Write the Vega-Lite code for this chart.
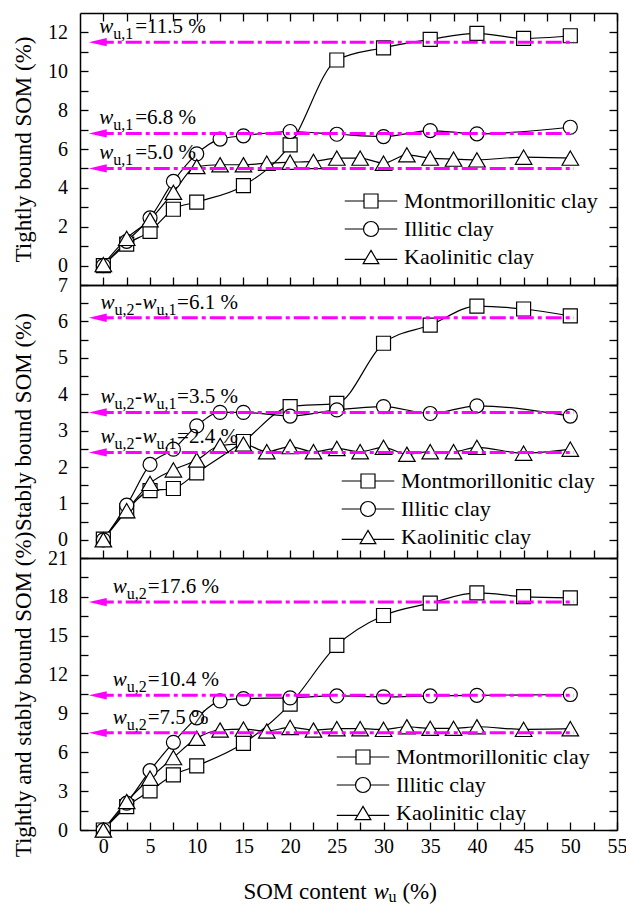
{
  "$schema": "https://vega.github.io/schema/vega-lite/v6.json",
  "background": "white",
  "padding": {"left": 11, "top": 12, "right": 0, "bottom": 0},
  "autosize": {"type": "pad"},
  "bounds": "flush",
  "spacing": 0,
  "config": {
    "font": "Liberation Serif",
    "view": {"stroke": null},
    "text": {"font": "Liberation Serif", "color": "black"},
    "axis": {
      "domainColor": "black", "domainWidth": 1.5, "tickColor": "black", "tickWidth": 1.3, "tickSize": -8,
      "labelFont": "Liberation Serif", "labelFontSize": 20, "labelColor": "black",
      "titleFont": "Liberation Serif", "titleFontSize": 23, "titleFontWeight": "normal", "titleColor": "black",
      "grid": false, "labelOverlap": false, "labelFlush": false, "labelBound": false
    },
    "legend": {
      "labelFont": "Liberation Serif", "labelFontSize": 22, "labelColor": "black", "labelLimit": 400,
      "symbolSize": 196, "symbolStrokeWidth": 1.2, "symbolOpacity": 1, "labelOffset": 22, "rowPadding": 6, "padding": 0
    }
  },
  "datasets": {
    "pts": [
      {"p":1,"c":"Montmorillonitic clay","x":0,"y":0},
      {"p":1,"c":"Montmorillonitic clay","x":2.5,"y":1.1},
      {"p":1,"c":"Montmorillonitic clay","x":5,"y":1.76},
      {"p":1,"c":"Montmorillonitic clay","x":7.5,"y":2.9},
      {"p":1,"c":"Montmorillonitic clay","x":10,"y":3.27},
      {"p":1,"c":"Montmorillonitic clay","x":15,"y":4.11},
      {"p":1,"c":"Montmorillonitic clay","x":20,"y":6.21},
      {"p":1,"c":"Montmorillonitic clay","x":25,"y":10.58},
      {"p":1,"c":"Montmorillonitic clay","x":30,"y":11.21},
      {"p":1,"c":"Montmorillonitic clay","x":35,"y":11.64},
      {"p":1,"c":"Montmorillonitic clay","x":40,"y":11.95},
      {"p":1,"c":"Montmorillonitic clay","x":45,"y":11.69},
      {"p":1,"c":"Montmorillonitic clay","x":50,"y":11.83},
      {"p":1,"c":"Illitic clay","x":0,"y":0},
      {"p":1,"c":"Illitic clay","x":2.5,"y":1.25},
      {"p":1,"c":"Illitic clay","x":5,"y":2.45},
      {"p":1,"c":"Illitic clay","x":7.5,"y":4.33},
      {"p":1,"c":"Illitic clay","x":10,"y":5.75},
      {"p":1,"c":"Illitic clay","x":12.5,"y":6.51},
      {"p":1,"c":"Illitic clay","x":15,"y":6.68},
      {"p":1,"c":"Illitic clay","x":20,"y":6.9},
      {"p":1,"c":"Illitic clay","x":25,"y":6.76},
      {"p":1,"c":"Illitic clay","x":30,"y":6.64},
      {"p":1,"c":"Illitic clay","x":35,"y":6.95},
      {"p":1,"c":"Illitic clay","x":40,"y":6.78},
      {"p":1,"c":"Illitic clay","x":50,"y":7.12},
      {"p":1,"c":"Kaolinitic clay","x":0,"y":0.05},
      {"p":1,"c":"Kaolinitic clay","x":2.5,"y":1.4},
      {"p":1,"c":"Kaolinitic clay","x":5,"y":2.36},
      {"p":1,"c":"Kaolinitic clay","x":7.5,"y":3.77},
      {"p":1,"c":"Kaolinitic clay","x":10,"y":5.1},
      {"p":1,"c":"Kaolinitic clay","x":12.5,"y":5.19},
      {"p":1,"c":"Kaolinitic clay","x":15,"y":5.19},
      {"p":1,"c":"Kaolinitic clay","x":17.5,"y":5.27},
      {"p":1,"c":"Kaolinitic clay","x":20,"y":5.32},
      {"p":1,"c":"Kaolinitic clay","x":22.5,"y":5.36},
      {"p":1,"c":"Kaolinitic clay","x":25,"y":5.53},
      {"p":1,"c":"Kaolinitic clay","x":27.5,"y":5.53},
      {"p":1,"c":"Kaolinitic clay","x":30,"y":5.27},
      {"p":1,"c":"Kaolinitic clay","x":32.5,"y":5.7},
      {"p":1,"c":"Kaolinitic clay","x":35,"y":5.53},
      {"p":1,"c":"Kaolinitic clay","x":37.5,"y":5.48},
      {"p":1,"c":"Kaolinitic clay","x":40,"y":5.44},
      {"p":1,"c":"Kaolinitic clay","x":45,"y":5.58},
      {"p":1,"c":"Kaolinitic clay","x":50,"y":5.53},

      {"p":2,"c":"Montmorillonitic clay","x":0,"y":0.02},
      {"p":2,"c":"Montmorillonitic clay","x":2.5,"y":0.8},
      {"p":2,"c":"Montmorillonitic clay","x":5,"y":1.35},
      {"p":2,"c":"Montmorillonitic clay","x":7.5,"y":1.41},
      {"p":2,"c":"Montmorillonitic clay","x":10,"y":1.84},
      {"p":2,"c":"Montmorillonitic clay","x":15,"y":2.7},
      {"p":2,"c":"Montmorillonitic clay","x":20,"y":3.66},
      {"p":2,"c":"Montmorillonitic clay","x":25,"y":3.75},
      {"p":2,"c":"Montmorillonitic clay","x":30,"y":5.4},
      {"p":2,"c":"Montmorillonitic clay","x":35,"y":5.9},
      {"p":2,"c":"Montmorillonitic clay","x":40,"y":6.42},
      {"p":2,"c":"Montmorillonitic clay","x":45,"y":6.34},
      {"p":2,"c":"Montmorillonitic clay","x":50,"y":6.15},
      {"p":2,"c":"Illitic clay","x":0,"y":0},
      {"p":2,"c":"Illitic clay","x":2.5,"y":0.95},
      {"p":2,"c":"Illitic clay","x":5,"y":2.07},
      {"p":2,"c":"Illitic clay","x":7.5,"y":2.49},
      {"p":2,"c":"Illitic clay","x":10,"y":3.13},
      {"p":2,"c":"Illitic clay","x":12.5,"y":3.5},
      {"p":2,"c":"Illitic clay","x":15,"y":3.5},
      {"p":2,"c":"Illitic clay","x":20,"y":3.4},
      {"p":2,"c":"Illitic clay","x":25,"y":3.57},
      {"p":2,"c":"Illitic clay","x":30,"y":3.66},
      {"p":2,"c":"Illitic clay","x":35,"y":3.47},
      {"p":2,"c":"Illitic clay","x":40,"y":3.68},
      {"p":2,"c":"Illitic clay","x":50,"y":3.4},
      {"p":2,"c":"Kaolinitic clay","x":0,"y":0},
      {"p":2,"c":"Kaolinitic clay","x":2.5,"y":0.8},
      {"p":2,"c":"Kaolinitic clay","x":5,"y":1.55},
      {"p":2,"c":"Kaolinitic clay","x":7.5,"y":1.92},
      {"p":2,"c":"Kaolinitic clay","x":10,"y":2.19},
      {"p":2,"c":"Kaolinitic clay","x":12.5,"y":2.59},
      {"p":2,"c":"Kaolinitic clay","x":15,"y":2.63},
      {"p":2,"c":"Kaolinitic clay","x":17.5,"y":2.42},
      {"p":2,"c":"Kaolinitic clay","x":20,"y":2.56},
      {"p":2,"c":"Kaolinitic clay","x":22.5,"y":2.42},
      {"p":2,"c":"Kaolinitic clay","x":25,"y":2.51},
      {"p":2,"c":"Kaolinitic clay","x":27.5,"y":2.42},
      {"p":2,"c":"Kaolinitic clay","x":30,"y":2.54},
      {"p":2,"c":"Kaolinitic clay","x":32.5,"y":2.35},
      {"p":2,"c":"Kaolinitic clay","x":35,"y":2.42},
      {"p":2,"c":"Kaolinitic clay","x":37.5,"y":2.42},
      {"p":2,"c":"Kaolinitic clay","x":40,"y":2.54},
      {"p":2,"c":"Kaolinitic clay","x":45,"y":2.38},
      {"p":2,"c":"Kaolinitic clay","x":50,"y":2.49},

      {"p":3,"c":"Montmorillonitic clay","x":0,"y":0},
      {"p":3,"c":"Montmorillonitic clay","x":2.5,"y":1.8},
      {"p":3,"c":"Montmorillonitic clay","x":5,"y":3.02},
      {"p":3,"c":"Montmorillonitic clay","x":7.5,"y":4.25},
      {"p":3,"c":"Montmorillonitic clay","x":10,"y":4.95},
      {"p":3,"c":"Montmorillonitic clay","x":15,"y":6.69},
      {"p":3,"c":"Montmorillonitic clay","x":20,"y":9.72},
      {"p":3,"c":"Montmorillonitic clay","x":25,"y":14.25},
      {"p":3,"c":"Montmorillonitic clay","x":30,"y":16.56},
      {"p":3,"c":"Montmorillonitic clay","x":35,"y":17.51},
      {"p":3,"c":"Montmorillonitic clay","x":40,"y":18.3},
      {"p":3,"c":"Montmorillonitic clay","x":45,"y":18.02},
      {"p":3,"c":"Montmorillonitic clay","x":50,"y":17.92},
      {"p":3,"c":"Illitic clay","x":0,"y":0},
      {"p":3,"c":"Illitic clay","x":2.5,"y":2.07},
      {"p":3,"c":"Illitic clay","x":5,"y":4.58},
      {"p":3,"c":"Illitic clay","x":7.5,"y":6.77},
      {"p":3,"c":"Illitic clay","x":10,"y":8.66},
      {"p":3,"c":"Illitic clay","x":12.5,"y":9.97},
      {"p":3,"c":"Illitic clay","x":15,"y":10.15},
      {"p":3,"c":"Illitic clay","x":20,"y":10.2},
      {"p":3,"c":"Illitic clay","x":25,"y":10.35},
      {"p":3,"c":"Illitic clay","x":30,"y":10.28},
      {"p":3,"c":"Illitic clay","x":35,"y":10.35},
      {"p":3,"c":"Illitic clay","x":40,"y":10.4},
      {"p":3,"c":"Illitic clay","x":50,"y":10.46},
      {"p":3,"c":"Kaolinitic clay","x":0,"y":0},
      {"p":3,"c":"Kaolinitic clay","x":2.5,"y":2.2},
      {"p":3,"c":"Kaolinitic clay","x":5,"y":4.0},
      {"p":3,"c":"Kaolinitic clay","x":7.5,"y":5.59},
      {"p":3,"c":"Kaolinitic clay","x":10,"y":7.08},
      {"p":3,"c":"Kaolinitic clay","x":12.5,"y":7.72},
      {"p":3,"c":"Kaolinitic clay","x":15,"y":7.79},
      {"p":3,"c":"Kaolinitic clay","x":17.5,"y":7.64},
      {"p":3,"c":"Kaolinitic clay","x":20,"y":7.92},
      {"p":3,"c":"Kaolinitic clay","x":22.5,"y":7.72},
      {"p":3,"c":"Kaolinitic clay","x":25,"y":7.82},
      {"p":3,"c":"Kaolinitic clay","x":27.5,"y":7.82},
      {"p":3,"c":"Kaolinitic clay","x":30,"y":7.77},
      {"p":3,"c":"Kaolinitic clay","x":32.5,"y":7.97},
      {"p":3,"c":"Kaolinitic clay","x":35,"y":7.85},
      {"p":3,"c":"Kaolinitic clay","x":37.5,"y":7.85},
      {"p":3,"c":"Kaolinitic clay","x":40,"y":7.97},
      {"p":3,"c":"Kaolinitic clay","x":45,"y":7.77},
      {"p":3,"c":"Kaolinitic clay","x":50,"y":7.82}
    ],
    "refs": [
      {"p":1,"v":11.5,"t":"=11.5 %"},
      {"p":1,"v":6.8,"t":"=6.8 %"},
      {"p":1,"v":5.0,"t":"=5.0 %"},
      {"p":2,"v":6.1,"t":"=6.1 %"},
      {"p":2,"v":3.5,"t":"=3.5 %"},
      {"p":2,"v":2.4,"t":"=2.4 %"},
      {"p":3,"v":17.6,"t":"=17.6 %"},
      {"p":3,"v":10.4,"t":"=10.4 %"},
      {"p":3,"v":7.5,"t":"=7.5 %"}
    ]
  },
  "vconcat": [
    {
      "width": 537, "height": 272,
      "layer": [
        {
          "data": {"name": "pts"}, "transform": [{"filter": "datum.p === 1"}],
          "mark": {"type": "line", "interpolate": "monotone", "color": "black", "strokeWidth": 1.2},
          "encoding": {
            "x": {"field": "x", "type": "quantitative", "scale": {"domain": [-2.5, 55], "nice": false, "zero": false},
              "axis": {"orient": "bottom", "values": [0,2.5,5,7.5,10,12.5,15,17.5,20,22.5,25,27.5,30,32.5,35,37.5,40,42.5,45,47.5,50,52.5,55], "labels": false, "title": null, "labelFlush": false,
                "encode": {"ticks": {"y2": {"condition": {"test": "datum.value % 5 === 0", "value": -8}, "value": -4}}}}},
            "y": {"field": "y", "type": "quantitative", "scale": {"domain": [-1, 13], "nice": false, "zero": false},
              "axis": {"orient": "left", "values": [0,1,2,3,4,5,6,7,8,9,10,11,12], "title": "Tightly bound SOM (%)", "labelExpr": "datum.value % 2 === 0 ? format(datum.value, 'd') : ''", "labelPadding": 20.5, "titlePadding": 15, "minExtent": 30, "maxExtent": 30, "labelFlush": false, "labelOverlap": false,
                "encode": {"ticks": {"x2": {"condition": {"test": "datum.value % 2 === 0", "value": 8}, "value": 4}}}}},
            "detail": {"field": "c"}
          }
        },
        {
          "data": {"name": "pts"}, "transform": [{"filter": "datum.p === 1"}],
          "mark": {"type": "point", "filled": true, "fill": "white", "stroke": "black", "strokeWidth": 1.2, "opacity": 1, "size": 196},
          "encoding": {
            "x": {"field": "x", "type": "quantitative",
              "axis": {"orient": "top", "values": [0,2.5,5,7.5,10,12.5,15,17.5,20,22.5,25,27.5,30,32.5,35,37.5,40,42.5,45,47.5,50,52.5,55], "labels": false, "title": null, "labelFlush": false,
                "encode": {"ticks": {"y2": {"condition": {"test": "datum.value % 5 === 0", "value": 8}, "value": 4}}}}},
            "y": {"field": "y", "type": "quantitative",
              "axis": {"orient": "right", "values": [0,1,2,3,4,5,6,7,8,9,10,11,12], "labels": false, "title": null,
                "encode": {"ticks": {"x2": {"condition": {"test": "datum.value % 2 === 0", "value": -8}, "value": -4}}}}},
            "shape": {"field": "c", "type": "nominal", "legend": null,
              "scale": {"domain": ["Montmorillonitic clay", "Illitic clay", "Kaolinitic clay"], "range": ["square", "circle", "M0,-1.02L1.18,1.02L-1.18,1.02Z"]}}
          }
        },
        {
          "data": {"name": "pts"}, "transform": [{"filter": "datum.p === 1 && datum.x === 0"}],
          "mark": {"type": "point", "filled": true, "fill": "white", "stroke": "black", "opacity": 0, "size": 196},
          "encoding": {
            "x": {"field": "x", "type": "quantitative", "axis": null},
            "y": {"field": "y", "type": "quantitative", "axis": null},
            "shape": {"field": "c", "type": "nominal",
              "scale": {"domain": ["Montmorillonitic clay", "Illitic clay", "Kaolinitic clay"], "range": ["M-3.75,0H-1M1,0H3.75M-1,-1H1V1H-1Z", "M-3.75,0H-1.07M1.07,0H3.75M-1.07,0A1.07,1.07,0,1,1,1.07,0A1.07,1.07,0,1,1,-1.07,0Z", "M-3.75,0.33H-0.76M0.76,0.33H3.75M0,-0.95L1.12,0.95L-1.12,0.95Z"]},
              "legend": {"title": null, "orient": "none", "legendX": 280, "legendY": 177, "symbolOpacity": 1,
                "encode": {"symbols": {"fill": {"value": "white"}, "stroke": {"value": "black"}, "strokeWidth": {"value": 1.2}, "opacity": {"value": 1}}}}}
          }
        },
        {
          "data": {"name": "refs"}, "transform": [{"filter": "datum.p === 1"}],
          "mark": {"type": "rule", "color": "#FF00FF", "strokeWidth": 3, "strokeDash": [16, 4, 4, 4]},
          "encoding": {"x": {"datum": -0.6, "type": "quantitative", "axis": null}, "x2": {"datum": 50.4}, "y": {"field": "v", "type": "quantitative", "axis": null}}
        },
        {
          "data": {"name": "refs"}, "transform": [{"filter": "datum.p === 1"}],
          "mark": {"type": "point", "shape": "M-1,0L1,-0.46L1,0.46Z", "size": 324, "filled": true, "color": "#FF00FF", "opacity": 1, "strokeWidth": 0},
          "encoding": {"x": {"datum": -0.6, "type": "quantitative", "axis": null}, "y": {"field": "v", "type": "quantitative", "axis": null}}
        },
        {
          "data": {"name": "refs"}, "transform": [{"filter": "datum.p === 1"}],
          "mark": {"type": "text", "text": "w", "fontStyle": "italic", "fontSize": 21, "align": "left", "baseline": "alphabetic", "dy": -9},
          "encoding": {"x": {"datum": -0.45, "type": "quantitative", "axis": null}, "y": {"field": "v", "type": "quantitative", "axis": null}}
        },
        {
          "data": {"name": "refs"}, "transform": [{"filter": "datum.p === 1"}],
          "mark": {"type": "text", "text": "u,1", "fontSize": 16, "align": "left", "baseline": "alphabetic", "dx": 14, "dy": -3},
          "encoding": {"x": {"datum": -0.45, "type": "quantitative", "axis": null}, "y": {"field": "v", "type": "quantitative", "axis": null}}
        },
        {
          "data": {"name": "refs"}, "transform": [{"filter": "datum.p === 1"}],
          "mark": {"type": "text", "fontSize": 21, "align": "left", "baseline": "alphabetic", "dx": 36, "dy": -9},
          "encoding": {"x": {"datum": -0.45, "type": "quantitative", "axis": null}, "y": {"field": "v", "type": "quantitative", "axis": null}, "text": {"field": "t"}}
        }
      ],
      "resolve": {"axis": {"x": "independent", "y": "independent"}, "scale": {"shape": "independent"}}
    },
    {
      "width": 537, "height": 273,
      "layer": [
        {
          "data": {"name": "pts"}, "transform": [{"filter": "datum.p === 2"}],
          "mark": {"type": "line", "interpolate": "monotone", "color": "black", "strokeWidth": 1.2},
          "encoding": {
            "x": {"field": "x", "type": "quantitative", "scale": {"domain": [-2.5, 55], "nice": false, "zero": false},
              "axis": {"orient": "bottom", "values": [0,2.5,5,7.5,10,12.5,15,17.5,20,22.5,25,27.5,30,32.5,35,37.5,40,42.5,45,47.5,50,52.5,55], "labels": false, "title": null, "labelFlush": false,
                "encode": {"ticks": {"y2": {"condition": {"test": "datum.value % 5 === 0", "value": -8}, "value": -4}}}}},
            "y": {"field": "y", "type": "quantitative", "scale": {"domain": [-0.5, 7], "nice": false, "zero": false},
              "axis": {"orient": "left", "values": [0,0.5,1,1.5,2,2.5,3,3.5,4,4.5,5,5.5,6,6.5,7], "title": "Stably bound SOM (%)", "labelExpr": "datum.value % 1 === 0 ? format(datum.value, 'd') : ''", "labelPadding": 20.5, "titlePadding": 15, "minExtent": 30, "maxExtent": 30, "labelFlush": false, "labelOverlap": false,
                "encode": {"ticks": {"x2": {"condition": {"test": "datum.value % 1 === 0", "value": 8}, "value": 4}}}}},
            "detail": {"field": "c"}
          }
        },
        {
          "data": {"name": "pts"}, "transform": [{"filter": "datum.p === 2"}],
          "mark": {"type": "point", "filled": true, "fill": "white", "stroke": "black", "strokeWidth": 1.2, "opacity": 1, "size": 196},
          "encoding": {
            "x": {"field": "x", "type": "quantitative",
              "axis": {"orient": "top", "labels": false, "ticks": false, "title": null, "labelFlush": false}},
            "y": {"field": "y", "type": "quantitative",
              "axis": {"orient": "right", "values": [0,0.5,1,1.5,2,2.5,3,3.5,4,4.5,5,5.5,6,6.5,7], "labels": false, "title": null,
                "encode": {"ticks": {"x2": {"condition": {"test": "datum.value % 1 === 0", "value": -8}, "value": -4}}}}},
            "shape": {"field": "c", "type": "nominal", "legend": null,
              "scale": {"domain": ["Montmorillonitic clay", "Illitic clay", "Kaolinitic clay"], "range": ["square", "circle", "M0,-1.02L1.18,1.02L-1.18,1.02Z"]}}
          }
        },
        {
          "data": {"name": "pts"}, "transform": [{"filter": "datum.p === 2 && datum.x === 0"}],
          "mark": {"type": "point", "filled": true, "fill": "white", "stroke": "black", "opacity": 0, "size": 196},
          "encoding": {
            "x": {"field": "x", "type": "quantitative", "axis": null},
            "y": {"field": "y", "type": "quantitative", "axis": null},
            "shape": {"field": "c", "type": "nominal",
              "scale": {"domain": ["Montmorillonitic clay", "Illitic clay", "Kaolinitic clay"], "range": ["M-3.75,0H-1M1,0H3.75M-1,-1H1V1H-1Z", "M-3.75,0H-1.07M1.07,0H3.75M-1.07,0A1.07,1.07,0,1,1,1.07,0A1.07,1.07,0,1,1,-1.07,0Z", "M-3.75,0.33H-0.76M0.76,0.33H3.75M0,-0.95L1.12,0.95L-1.12,0.95Z"]},
              "legend": {"title": null, "orient": "none", "legendX": 277, "legendY": 185, "symbolOpacity": 1,
                "encode": {"symbols": {"fill": {"value": "white"}, "stroke": {"value": "black"}, "strokeWidth": {"value": 1.2}, "opacity": {"value": 1}}}}}
          }
        },
        {
          "data": {"name": "refs"}, "transform": [{"filter": "datum.p === 2"}],
          "mark": {"type": "rule", "color": "#FF00FF", "strokeWidth": 3, "strokeDash": [16, 4, 4, 4]},
          "encoding": {"x": {"datum": -0.6, "type": "quantitative", "axis": null}, "x2": {"datum": 50.4}, "y": {"field": "v", "type": "quantitative", "axis": null}}
        },
        {
          "data": {"name": "refs"}, "transform": [{"filter": "datum.p === 2"}],
          "mark": {"type": "point", "shape": "M-1,0L1,-0.46L1,0.46Z", "size": 324, "filled": true, "color": "#FF00FF", "opacity": 1, "strokeWidth": 0},
          "encoding": {"x": {"datum": -0.6, "type": "quantitative", "axis": null}, "y": {"field": "v", "type": "quantitative", "axis": null}}
        },
        {
          "data": {"name": "refs"}, "transform": [{"filter": "datum.p === 2"}],
          "mark": {"type": "text", "text": "w", "fontStyle": "italic", "fontSize": 21, "align": "left", "baseline": "alphabetic", "dy": -9},
          "encoding": {"x": {"datum": -0.3, "type": "quantitative", "axis": null}, "y": {"field": "v", "type": "quantitative", "axis": null}}
        },
        {
          "data": {"name": "refs"}, "transform": [{"filter": "datum.p === 2"}],
          "mark": {"type": "text", "text": "u,2", "fontSize": 16, "align": "left", "baseline": "alphabetic", "dx": 14, "dy": -3},
          "encoding": {"x": {"datum": -0.3, "type": "quantitative", "axis": null}, "y": {"field": "v", "type": "quantitative", "axis": null}}
        },
        {
          "data": {"name": "refs"}, "transform": [{"filter": "datum.p === 2"}],
          "mark": {"type": "text", "text": "-", "fontSize": 21, "align": "left", "baseline": "alphabetic", "dx": 34.5, "dy": -9},
          "encoding": {"x": {"datum": -0.3, "type": "quantitative", "axis": null}, "y": {"field": "v", "type": "quantitative", "axis": null}}
        },
        {
          "data": {"name": "refs"}, "transform": [{"filter": "datum.p === 2"}],
          "mark": {"type": "text", "text": "w", "fontStyle": "italic", "fontSize": 21, "align": "left", "baseline": "alphabetic", "dx": 42, "dy": -9},
          "encoding": {"x": {"datum": -0.3, "type": "quantitative", "axis": null}, "y": {"field": "v", "type": "quantitative", "axis": null}}
        },
        {
          "data": {"name": "refs"}, "transform": [{"filter": "datum.p === 2"}],
          "mark": {"type": "text", "text": "u,1", "fontSize": 16, "align": "left", "baseline": "alphabetic", "dx": 56, "dy": -3},
          "encoding": {"x": {"datum": -0.3, "type": "quantitative", "axis": null}, "y": {"field": "v", "type": "quantitative", "axis": null}}
        },
        {
          "data": {"name": "refs"}, "transform": [{"filter": "datum.p === 2"}],
          "mark": {"type": "text", "fontSize": 21, "align": "left", "baseline": "alphabetic", "dx": 76.5, "dy": -9},
          "encoding": {"x": {"datum": -0.3, "type": "quantitative", "axis": null}, "y": {"field": "v", "type": "quantitative", "axis": null}, "text": {"field": "t"}}
        }
      ],
      "resolve": {"axis": {"x": "independent", "y": "independent"}, "scale": {"shape": "independent"}}
    },
    {
      "width": 537, "height": 272,
      "layer": [
        {
          "data": {"name": "pts"}, "transform": [{"filter": "datum.p === 3"}],
          "mark": {"type": "line", "interpolate": "monotone", "color": "black", "strokeWidth": 1.2},
          "encoding": {
            "x": {"field": "x", "type": "quantitative", "scale": {"domain": [-2.5, 55], "nice": false, "zero": false},
              "axis": {"orient": "bottom", "values": [0,2.5,5,7.5,10,12.5,15,17.5,20,22.5,25,27.5,30,32.5,35,37.5,40,42.5,45,47.5,50,52.5,55], "title": null, "labelExpr": "datum.value % 5 === 0 ? format(datum.value, 'd') : ''", "labelPadding": 14, "labelFlush": false, "labelOverlap": false,
                "encode": {"ticks": {"y2": {"condition": {"test": "datum.value % 5 === 0", "value": -8}, "value": -4}}}}},
            "y": {"field": "y", "type": "quantitative", "scale": {"domain": [0, 21], "nice": false, "zero": false},
              "axis": {"orient": "left", "values": [0,1.5,3,4.5,6,7.5,9,10.5,12,13.5,15,16.5,18,19.5,21], "title": "Tightly and stably bound SOM (%)", "labelExpr": "datum.value % 3 === 0 ? format(datum.value, 'd') : ''", "labelPadding": 20.5, "titlePadding": 15, "minExtent": 30, "maxExtent": 30, "labelFlush": false, "labelOverlap": false,
                "encode": {"ticks": {"x2": {"condition": {"test": "datum.value % 3 === 0", "value": 8}, "value": 4}}}}},
            "detail": {"field": "c"}
          }
        },
        {
          "data": {"name": "pts"}, "transform": [{"filter": "datum.p === 3"}],
          "mark": {"type": "point", "filled": true, "fill": "white", "stroke": "black", "strokeWidth": 1.2, "opacity": 1, "size": 196},
          "encoding": {
            "x": {"field": "x", "type": "quantitative",
              "axis": {"orient": "top", "labels": false, "ticks": false, "title": null, "labelFlush": false}},
            "y": {"field": "y", "type": "quantitative",
              "axis": {"orient": "right", "values": [0,1.5,3,4.5,6,7.5,9,10.5,12,13.5,15,16.5,18,19.5,21], "labels": false, "title": null,
                "encode": {"ticks": {"x2": {"condition": {"test": "datum.value % 3 === 0", "value": -8}, "value": -4}}}}},
            "shape": {"field": "c", "type": "nominal", "legend": null,
              "scale": {"domain": ["Montmorillonitic clay", "Illitic clay", "Kaolinitic clay"], "range": ["square", "circle", "M0,-1.02L1.18,1.02L-1.18,1.02Z"]}}
          }
        },
        {
          "data": {"name": "pts"}, "transform": [{"filter": "datum.p === 3 && datum.x === 0"}],
          "mark": {"type": "point", "filled": true, "fill": "white", "stroke": "black", "opacity": 0, "size": 196},
          "encoding": {
            "x": {"field": "x", "type": "quantitative", "axis": null},
            "y": {"field": "y", "type": "quantitative", "axis": null},
            "shape": {"field": "c", "type": "nominal",
              "scale": {"domain": ["Montmorillonitic clay", "Illitic clay", "Kaolinitic clay"], "range": ["M-3.75,0H-1M1,0H3.75M-1,-1H1V1H-1Z", "M-3.75,0H-1.07M1.07,0H3.75M-1.07,0A1.07,1.07,0,1,1,1.07,0A1.07,1.07,0,1,1,-1.07,0Z", "M-3.75,0.33H-0.76M0.76,0.33H3.75M0,-0.95L1.12,0.95L-1.12,0.95Z"]},
              "legend": {"title": null, "orient": "none", "legendX": 272, "legendY": 188, "symbolOpacity": 1,
                "encode": {"symbols": {"fill": {"value": "white"}, "stroke": {"value": "black"}, "strokeWidth": {"value": 1.2}, "opacity": {"value": 1}}}}}
          }
        },
        {
          "data": {"name": "refs"}, "transform": [{"filter": "datum.p === 3"}],
          "mark": {"type": "rule", "color": "#FF00FF", "strokeWidth": 3, "strokeDash": [16, 4, 4, 4]},
          "encoding": {"x": {"datum": -0.6, "type": "quantitative", "axis": null}, "x2": {"datum": 50.4}, "y": {"field": "v", "type": "quantitative", "axis": null}}
        },
        {
          "data": {"name": "refs"}, "transform": [{"filter": "datum.p === 3"}],
          "mark": {"type": "point", "shape": "M-1,0L1,-0.46L1,0.46Z", "size": 324, "filled": true, "color": "#FF00FF", "opacity": 1, "strokeWidth": 0},
          "encoding": {"x": {"datum": -0.6, "type": "quantitative", "axis": null}, "y": {"field": "v", "type": "quantitative", "axis": null}}
        },
        {
          "data": {"name": "refs"}, "transform": [{"filter": "datum.p === 3"}],
          "mark": {"type": "text", "text": "w", "fontStyle": "italic", "fontSize": 21, "align": "left", "baseline": "alphabetic", "dy": -9},
          "encoding": {"x": {"datum": 1.0, "type": "quantitative", "axis": null}, "y": {"field": "v", "type": "quantitative", "axis": null}}
        },
        {
          "data": {"name": "refs"}, "transform": [{"filter": "datum.p === 3"}],
          "mark": {"type": "text", "text": "u,2", "fontSize": 16, "align": "left", "baseline": "alphabetic", "dx": 14, "dy": -3},
          "encoding": {"x": {"datum": 1.0, "type": "quantitative", "axis": null}, "y": {"field": "v", "type": "quantitative", "axis": null}}
        },
        {
          "data": {"name": "refs"}, "transform": [{"filter": "datum.p === 3"}],
          "mark": {"type": "text", "fontSize": 21, "align": "left", "baseline": "alphabetic", "dx": 35, "dy": -9},
          "encoding": {"x": {"datum": 1.0, "type": "quantitative", "axis": null}, "y": {"field": "v", "type": "quantitative", "axis": null}, "text": {"field": "t"}}
        },
        {
          "data": {"values": [{"s": "SOM content"}]},
          "mark": {"type": "text", "fontSize": 23, "align": "left", "baseline": "alphabetic", "dy": 69},
          "encoding": {"x": {"datum": 15, "type": "quantitative", "axis": null}, "y": {"datum": 0, "type": "quantitative", "axis": null}, "text": {"field": "s"}}
        },
        {
          "data": {"values": [{"s": "w"}]},
          "mark": {"type": "text", "fontSize": 23, "fontStyle": "italic", "align": "left", "baseline": "alphabetic", "dx": 130, "dy": 69},
          "encoding": {"x": {"datum": 15, "type": "quantitative", "axis": null}, "y": {"datum": 0, "type": "quantitative", "axis": null}, "text": {"field": "s"}}
        },
        {
          "data": {"values": [{"s": "u"}]},
          "mark": {"type": "text", "fontSize": 16, "align": "left", "baseline": "alphabetic", "dx": 145, "dy": 72},
          "encoding": {"x": {"datum": 15, "type": "quantitative", "axis": null}, "y": {"datum": 0, "type": "quantitative", "axis": null}, "text": {"field": "s"}}
        },
        {
          "data": {"values": [{"s": "(%)"}]},
          "mark": {"type": "text", "fontSize": 23, "align": "left", "baseline": "alphabetic", "dx": 159, "dy": 69},
          "encoding": {"x": {"datum": 15, "type": "quantitative", "axis": null}, "y": {"datum": 0, "type": "quantitative", "axis": null}, "text": {"field": "s"}}
        }
      ],
      "resolve": {"axis": {"x": "independent", "y": "independent"}, "scale": {"shape": "independent"}}
    }
  ],
  "resolve": {"scale": {"shape": "independent"}, "legend": {"shape": "independent"}}
}
